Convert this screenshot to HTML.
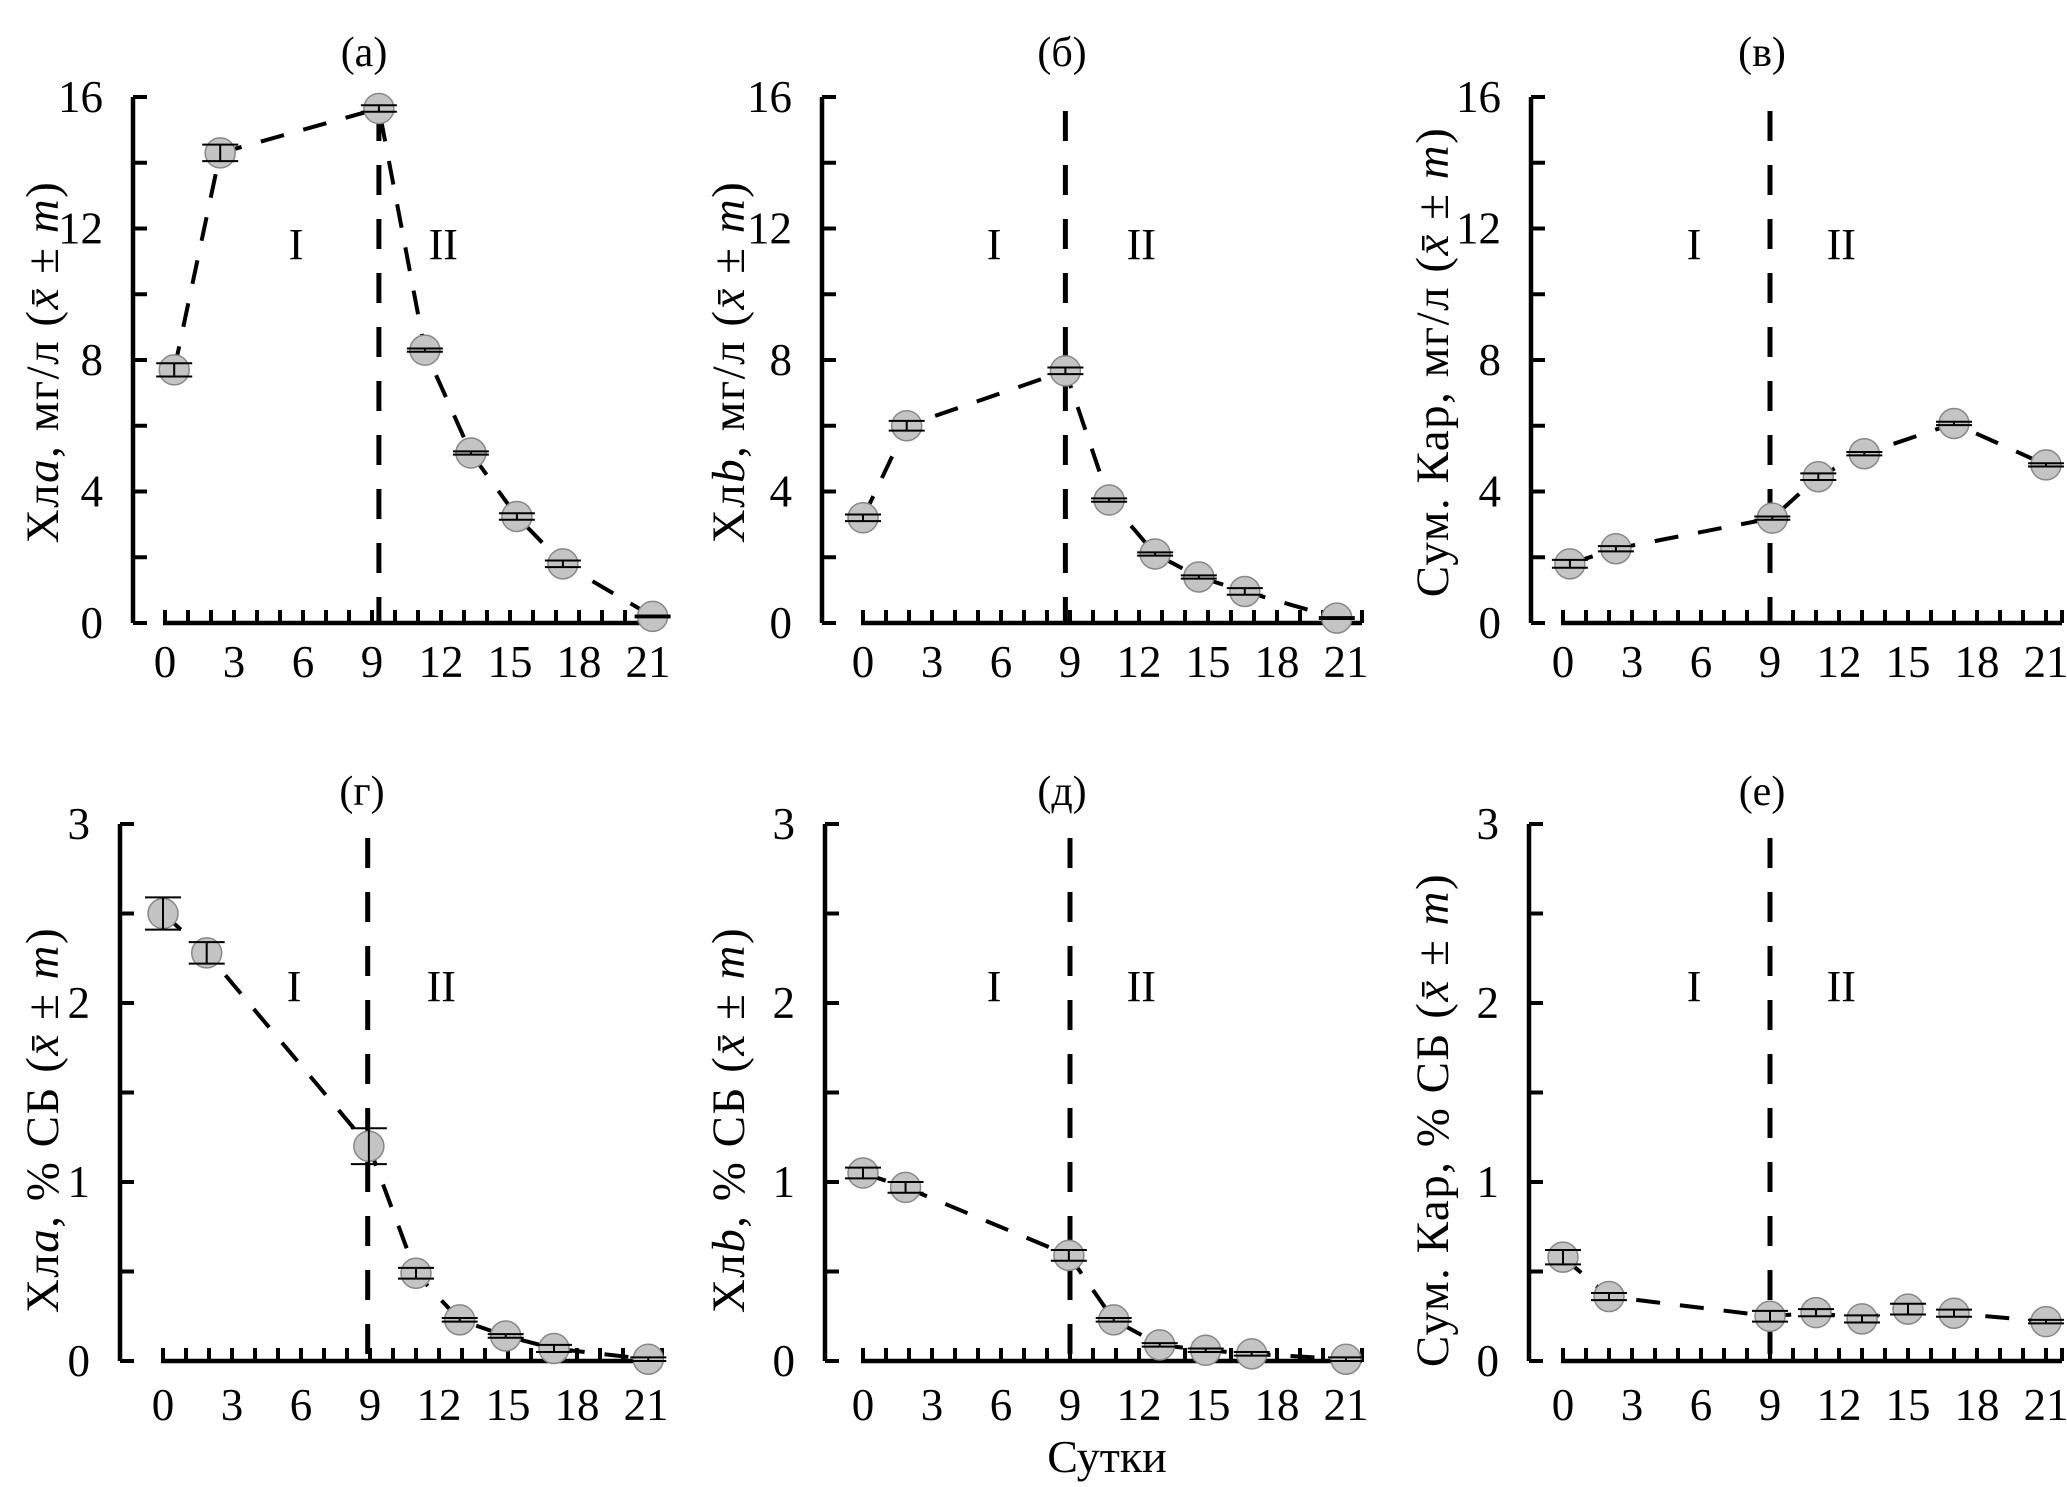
<!DOCTYPE html>
<html><head><meta charset="utf-8"><style>
html,body{margin:0;padding:0;background:#fff}
svg{display:block;font-family:"Liberation Serif",serif}
</style></head><body>
<svg id="fig" width="2067" height="1487" viewBox="0 0 2067 1487" xmlns="http://www.w3.org/2000/svg"></svg>
<script>
const xTickLabels=[0,3,6,9,12,15,18,21];
const topTicks=[0,4,8,12,16];
const botTicks=[0,1,2,3];
const daysA=[0.4,2.4,9.3,11.3,13.3,15.3,17.3,21.2];
const valsA=[7.7,14.3,15.65,8.3,5.17,3.24,1.8,0.2];
const errsA=[0.2,0.25,0.1,0.05,0.05,0.1,0.1,0.03];
const daysB=[0,1.9,8.8,10.7,12.7,14.6,16.6,20.6];
const valsB=[3.2,6.0,7.67,3.74,2.1,1.4,0.96,0.15];
const errsB=[0.1,0.15,0.1,0.05,0.05,0.05,0.1,0.03];
const daysC=[0.3,2.3,9.1,11.1,13.1,17,21];
const valsC=[1.8,2.26,3.19,4.45,5.15,6.07,4.81];
const errsC=[0.12,0.08,0.05,0.1,0.05,0.05,0.05];
const daysG=[0,1.9,8.95,11,12.9,14.9,17,21.1];
const valsG=[2.5,2.28,1.2,0.49,0.23,0.14,0.07,0.01];
const errsG=[0.09,0.06,0.1,0.03,0.01,0.01,0.02,0.01];
const daysD=[0,1.85,8.95,10.9,12.9,14.9,16.9,21];
const valsD=[1.05,0.97,0.59,0.23,0.09,0.06,0.04,0.01];
const errsD=[0.03,0.03,0.03,0.01,0.01,0.01,0.01,0.01];
const daysE=[0,2,9,11,13,15,17,21];
const valsE=[0.58,0.36,0.25,0.27,0.235,0.29,0.267,0.22];
const errsE=[0.04,0.02,0.03,0.02,0.02,0.03,0.02,0.01];
const vlineDays=[9.3,8.8,9.0,8.9,9.0,9.0];

const NS="http://www.w3.org/2000/svg";
const svg=document.getElementById('fig');
function mk(tag,attrs,parent){const e=document.createElementNS(NS,tag);for(const k in attrs)e.setAttribute(k,attrs[k]);(parent||svg).appendChild(e);return e;}

const panels=[
 {key:'a',title:'(а)',yax:133,x0:165,top:97,bot:623,max:16,ticks:topTicks,minor:2,days:daysA,vals:valsA,errs:errsA,vl:vlineDays[0],lab:['Хл','a',', мг/л ('],tb:58,ty:362,tyy:53,romanY:244,xlabY:677},
 {key:'b',title:'(б)',yax:822,x0:863,top:97,bot:623,max:16,ticks:topTicks,minor:2,days:daysB,vals:valsB,errs:errsB,vl:vlineDays[1],lab:['Хл','b',',  мг/л ('],tb:744,ty:362,tyy:53,romanY:244,xlabY:677},
 {key:'c',title:'(в)',yax:1531,x0:1563,top:97,bot:623,max:16,ticks:topTicks,minor:2,days:daysC,vals:valsC,errs:errsC,vl:vlineDays[2],lab:['Сум. Кар,  мг/л (','',''],tb:1448,ty:362,tyy:53,romanY:244,xlabY:677},
 {key:'g',title:'(г)',yax:120,x0:163,top:824,bot:1361,max:3,ticks:botTicks,minor:0.5,days:daysG,vals:valsG,errs:errsG,vl:vlineDays[3],lab:['Хл','a',', % СБ ('],tb:58,ty:1120,tyy:792,romanY:986,xlabY:1420},
 {key:'d',title:'(д)',yax:825,x0:863,top:824,bot:1361,max:3,ticks:botTicks,minor:0.5,days:daysD,vals:valsD,errs:errsD,vl:vlineDays[4],lab:['Хл','b',',  % СБ ('],tb:744,ty:1120,tyy:792,romanY:986,xlabY:1420},
 {key:'e',title:'(е)',yax:1529,x0:1563,top:824,bot:1361,max:3,ticks:botTicks,minor:0.5,days:daysE,vals:valsE,errs:errsE,vl:vlineDays[5],lab:['Сум. Кар,  % СБ (','',''],tb:1448,ty:1120,tyy:792,romanY:986,xlabY:1420}
];
const DAY=23.0;
panels.forEach(p=>{
 const g=mk('g',{});
 
 
 const X=d=>p.x0+d*DAY;
 const Y=v=>p.bot-(v/p.max)*(p.bot-p.top);
 const t=mk('text',{x:X(9)-8,y:p.tyy+13,'font-size':42,'text-anchor':'middle'},g);t.textContent=p.title;
 
 const ya=mk('line',{x1:p.yax,y1:p.top,x2:p.yax,y2:p.bot,stroke:'#000','stroke-width':4.5},g);
 
 for(let v=0;v<=p.max+1e-9;v+=p.minor){
  mk('line',{x1:p.yax,y1:Y(v),x2:p.yax+14,y2:Y(v),stroke:'#000','stroke-width':4},g);
 }
 p.ticks.forEach(v=>{
  const tl=mk('text',{x:p.yax-30,y:Y(v)+15,'font-size':45,'text-anchor':'end'},g);tl.textContent=v;
  
 });
 const xa=mk('line',{x1:X(0)-2,y1:p.bot,x2:X(21)+16,y2:p.bot,stroke:'#000','stroke-width':4.5},g);
 
 for(let d=0;d<=21;d++){mk('line',{x1:X(d),y1:p.bot,x2:X(d),y2:p.bot-13,stroke:'#000','stroke-width':4},g);}
 mk('line',{x1:X(21)+16,y1:p.bot,x2:X(21)+16,y2:p.bot-13,stroke:'#000','stroke-width':4},g);
 xTickLabels.forEach(d=>{
  const tl=mk('text',{x:X(d),y:p.xlabY,'font-size':45,'text-anchor':'middle'},g);tl.textContent=d;
  
 });
 const yl=mk('text',{transform:`translate(${p.tb},${p.ty}) rotate(-90)`,'font-size':47,'letter-spacing':1.5,'text-anchor':'middle'},g);
 
 let s=mk('tspan',{},yl);s.textContent=p.lab[0];
 if(p.lab[1]){s=mk('tspan',{'font-style':'italic'},yl);s.textContent=p.lab[1];s=mk('tspan',{},yl);s.textContent=p.lab[2];}
 s=mk('tspan',{'font-style':'italic'},yl);s.textContent='x\u0304';
 s=mk('tspan',{},yl);s.textContent=' ± ';
 s=mk('tspan',{'font-style':'italic'},yl);s.textContent='m';
 s=mk('tspan',{},yl);s.textContent=')';
 const vl=mk('line',{x1:X(p.vl),y1:p.top+14,x2:X(p.vl),y2:p.bot,stroke:'#000','stroke-width':5,'stroke-dasharray':'30 24'},g);
 
 const r1=mk('text',{x:X(5.7),y:p.romanY+15,'font-size':44,'text-anchor':'middle'},g);r1.textContent='I';
 
 const r2=mk('text',{x:X(12.1),y:p.romanY+15,'font-size':44,'text-anchor':'middle'},g);r2.textContent='II';
 
 const pts=p.days.map((d,i)=>X(d)+','+Y(p.vals[i])).join(' ');
 const pl=mk('polyline',{points:pts,fill:'none',stroke:'#000','stroke-width':4,'stroke-dasharray':'24 20'},g);
 
 p.days.forEach((d,i)=>{
  const cx=X(d),cy=Y(p.vals[i]);
  const c=mk('circle',{cx:cx,cy:cy,r:15,fill:'#c4c4c4',stroke:'#888','stroke-width':1.5},g);
  
  const e=p.errs[i]/p.max*(p.bot-p.top);
  const eb=mk('path',{d:`M${cx-18},${cy-e}H${cx+18}M${cx-18},${cy+e}H${cx+18}M${cx},${cy-e}V${cy+e}`,stroke:'#000','stroke-width':2,fill:'none'},g);
  
 });
});
const xt=mk('text',{x:1107,y:1472,'font-size':46,'text-anchor':'middle'});xt.textContent='Сутки';


</script>
</body></html>
